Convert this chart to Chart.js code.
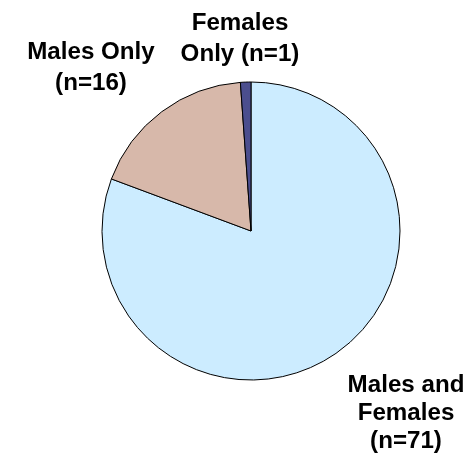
<!DOCTYPE html>
<html>
<head>
<meta charset="utf-8">
<script src="https://cdn.jsdelivr.net/npm/chart.js@4/dist/chart.umd.min.js"></script>
<style>
  html, body { margin: 0; padding: 0; background: #fff; }
  canvas { display: block; }
</style>
</head>
<body>
<canvas id="pieChart" width="471" height="464"></canvas>
<script>
const categories = ["Males and Females", "Males Only", "Females Only"]
const counts = [71, 16, 1]

const sliceColors = ["#CCECFF", "#D7B8AA", "#4B4E8E"]

// where each label block sits (center x, first baseline y, line height)
const labelLayout = [
  { x: 406, y: 392, lh: 28 },
  { x: 91, y: 59, lh: 31 },
  { x: 240, y: 30, lh: 31 },
]
const labelFont = "bold 23px 'Liberation Sans', Arial, sans-serif"
const labelStretch = 1.05
const labelMaxWidth = 135

function wrapText(ctx, text, maxWidth) {
  const words = text.split(" ")
  const lines = []
  let line = ""
  words.forEach((w) => {
    const test = line ? line + " " + w : w
    if (line && ctx.measureText(test).width * labelStretch > maxWidth) {
      lines.push(line)
      line = w
    } else {
      line = test
    }
  })
  if (line) lines.push(line)
  return lines
}

const sliceLabels = {
  id: "sliceLabels",
  afterDraw(chart) {
    const ctx = chart.ctx
    ctx.save()
    ctx.font = labelFont
    ctx.fillStyle = "#000"
    ctx.textAlign = "center"
    ctx.textBaseline = "alphabetic"
    chart.data.labels.forEach((label, i) => {
      const text = label + " (n=" + chart.data.datasets[0].data[i] + ")"
      const lines = wrapText(ctx, text, labelMaxWidth)
      const pos = labelLayout[i]
      lines.forEach((ln, j) => {
        ctx.save()
        ctx.translate(pos.x, pos.y + j * pos.lh)
        ctx.scale(labelStretch, 1)
        ctx.fillText(ln, 0, 0)
        ctx.restore()
      })
    })
    ctx.restore()
  },
}

new Chart(document.getElementById("pieChart"), {
  type: "pie",
  data: {
    labels: categories,
    datasets: [
      {
        data: counts,
        backgroundColor: sliceColors,
        borderColor: "#000",
        borderWidth: 1,
        hoverOffset: 0,
      },
    ],
  },
  options: {
    responsive: false,
    animation: false,
    radius: 149,
    layout: {
      padding: { left: 31, right: 0, top: 0, bottom: 2 },
    },
    plugins: {
      legend: { display: false },
      tooltip: { enabled: false },
    },
  },
  plugins: [sliceLabels],
})
</script>
</body>
</html>
